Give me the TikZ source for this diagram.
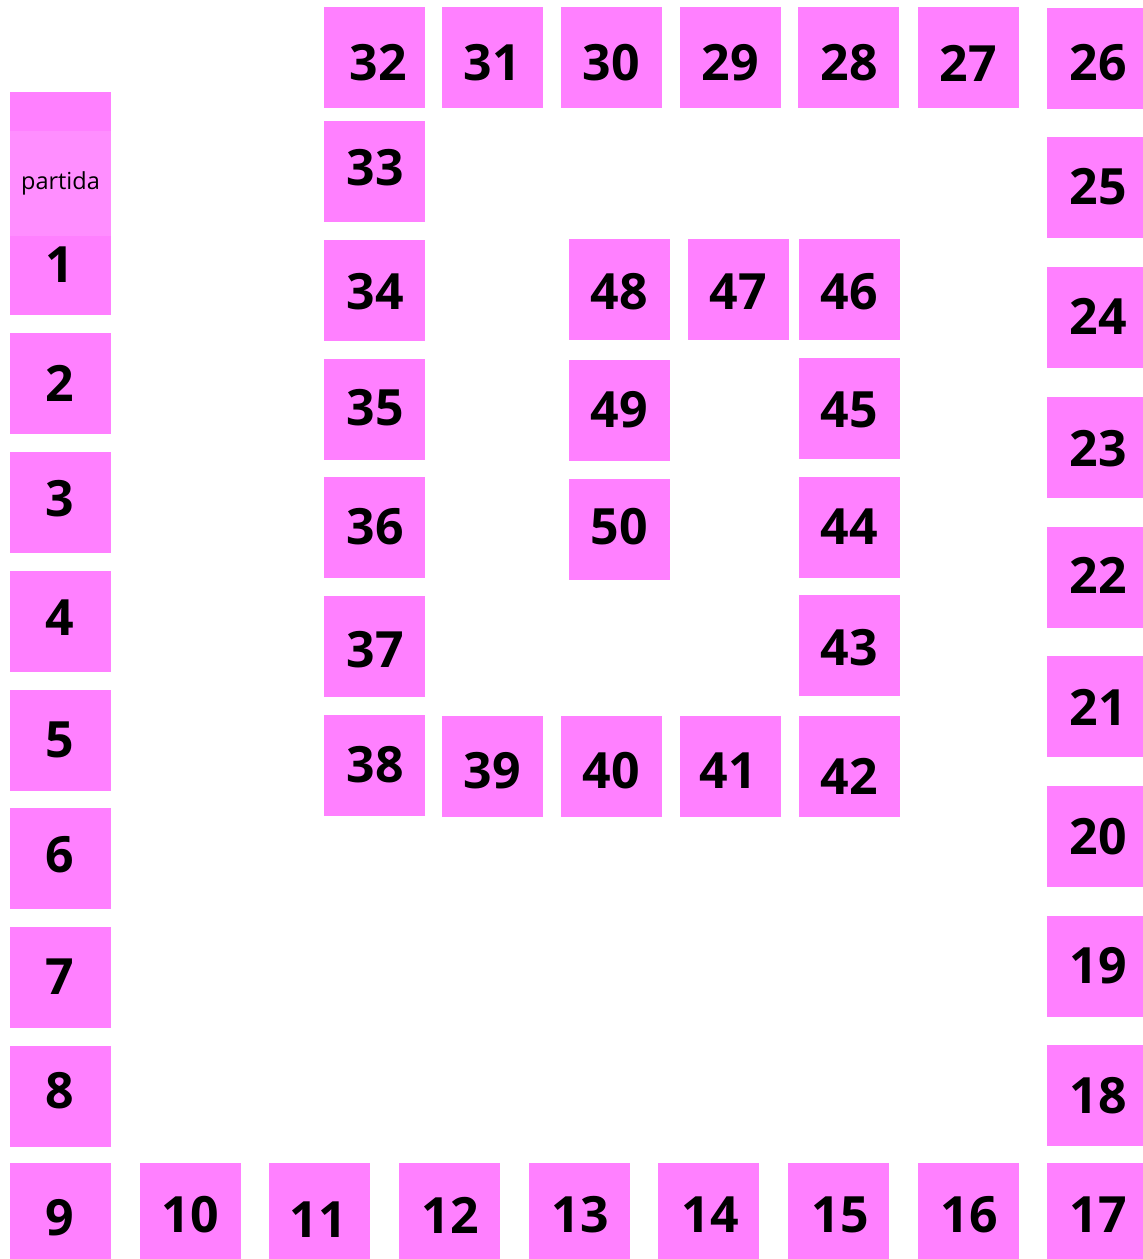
\documentclass[tikz,border=0pt]{standalone}
\usepackage{fontspec}
\setmainfont{Open Sans}
\definecolor{pk}{RGB}{255,128,255}
\definecolor{pklight}{RGB}{255,142,255}
\tikzset{
  sq/.style={fill=pk, draw=none, minimum width=101pt, minimum height=101pt, inner sep=0pt},
  num/.style={inner sep=0pt, font=\fontsize{50}{50}\selectfont\bfseries, text=black},
  startbox/.style={fill=pklight, draw=none, minimum width=101pt, minimum height=105pt, inner sep=0pt, font=\fontsize{23.5}{25}\selectfont, text=black}
}
\begin{document}
\begin{tikzpicture}[x=1pt,y=-1pt]
\useasboundingbox (0,0) rectangle (1143,1259);
% start square (behind partida)
\node[sq] (st) at (60.5,142.5) {};
% boxes: name/box x/box y/text x/text y
\foreach \n/\bx/\by/\tx/\ty in {
  1/60.5/264.5/60/265, 2/60.5/383.5/60/383, 3/60.5/502/60/499, 4/60.5/621/60/618,
  5/60.5/740/60/740, 6/60.5/858/60/855, 7/60.5/977/60/977, 8/60.5/1096/60/1091,
  9/60.5/1213.5/60/1218,
  10/190/1213.5/190/1215, 11/319.5/1213.5/318/1220, 12/449.5/1213.5/450/1215,
  13/579.5/1213.5/580/1215, 14/708.5/1213.5/710/1215, 15/838.5/1213.5/840/1215,
  16/968.5/1213.5/969/1215, 17/1097.5/1213.5/1098/1215,
  18/1097.5/1095/1098/1096, 19/1097.5/966/1098/966, 20/1097.5/836/1098/837,
  21/1097.5/706/1098/707, 22/1097.5/577/1098/575, 23/1097.5/447/1098/449,
  24/1097.5/317.5/1098/316, 25/1097.5/187.5/1098/187, 26/1097.5/58/1098/63,
  27/968.5/57.5/968/63, 28/848.5/57.5/849/63, 29/730.5/57.5/730/63,
  30/611.5/57.5/611/63, 31/492.5/57.5/492/63, 32/374/57.5/378/63,
  33/374/171/375/168, 34/374/290.5/375/292, 35/374/409/375/408,
  36/374/527.5/375/527, 37/374/646/375/650, 38/374/765/375/765,
  39/492.5/766.5/492/771, 40/611.5/766.5/611/771, 41/730.5/766.5/728/771,
  42/849.5/766.5/849/776, 43/849.5/645/849/648, 44/849.5/527/849/527,
  45/849.5/408/849/410, 46/849.5/289/849/292, 47/738.5/289/738/292,
  48/619/289/619/292, 49/619/410.5/619/410, 50/619/529/619/527}
{
  \node[sq] (b\n) at (\bx,\by) {};
  \node[num] (t\n) at (\tx,\ty) {\n};
}
% partida overlay
\node[startbox] (partida) at (60.5,183.5) {partida};
\end{tikzpicture}
\end{document}
